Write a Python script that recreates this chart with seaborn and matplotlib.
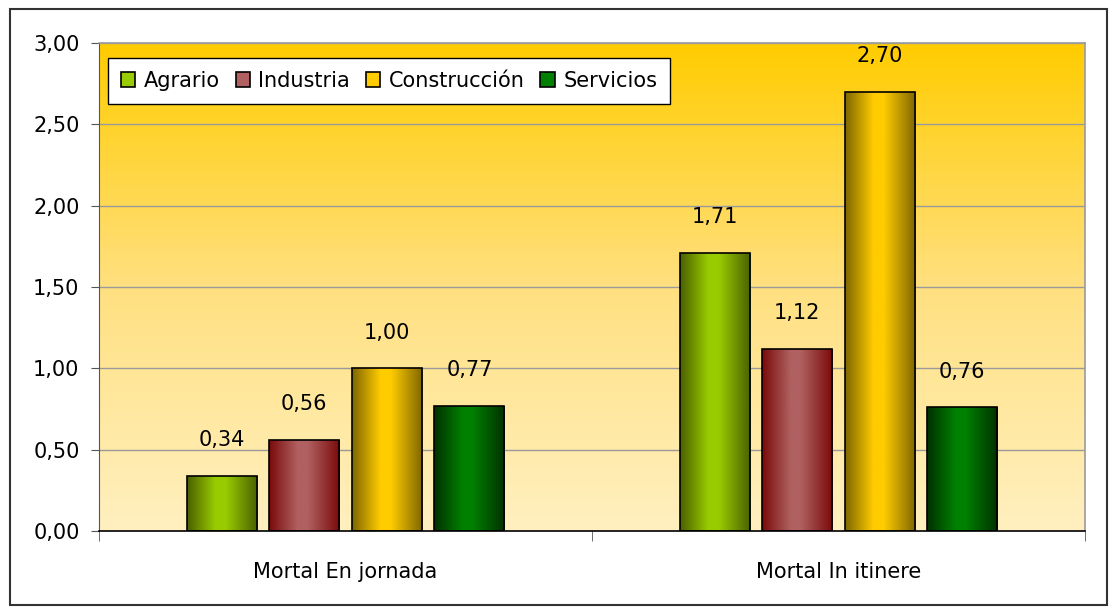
import numpy as np
import pandas as pd
import matplotlib
matplotlib.use("Agg")
import matplotlib.pyplot as plt
import seaborn as sns
from matplotlib.patches import Rectangle
from matplotlib.colors import LinearSegmentedColormap

# -----------------------------
# Data
# -----------------------------
categories = ["Mortal En jornada", "Mortal In itinere"]
sectors = ["Agrario", "Industria", "Construcción", "Servicios"]
agrario = [0.34, 1.71]
industria = [0.56, 1.12]
construccion = [1.00, 2.70]
servicios = [0.77, 0.76]

# light centre / dark edge for the bar gradients
light = {"Agrario": "#99CC00", "Industria": "#B06060",
         "Construcción": "#FFCC00", "Servicios": "#008000"}
dark = {"Agrario": "#4A6000", "Industria": "#7A0A0A",
        "Construcción": "#7F6600", "Servicios": "#003000"}

df = pd.DataFrame({
    "categoria": categories * 4,
    "sector": [s for s in sectors for _ in categories],
    "valor": agrario + industria + construccion + servicios,
})

fmt = lambda v: f"{v:.2f}".replace(".", ",")

# -----------------------------
# Figure
# -----------------------------
sns.set_style("white")
plt.rcParams["font.family"] = ["DejaVu Sans"]
plt.rcParams["text.color"] = "black"
plt.rcParams["xtick.color"] = "black"
plt.rcParams["ytick.color"] = "black"

FS = 15

fig = plt.figure(figsize=(11.14, 6.15), dpi=100)
ax = fig.add_axes([99 / 1114, 1 - 531 / 615, 986 / 1114, 488 / 615])

sns.barplot(data=df, x="categoria", y="valor", hue="sector",
            hue_order=sectors, order=categories,
            palette=light, width=0.67, gap=0.15,
            edgecolor="black", linewidth=1.2, legend=False, ax=ax)

# background gradient of the plot area
bg = LinearSegmentedColormap.from_list("bg", ["#FFF0C0", "#FFE080", "#FFCC00"])
ax.imshow(np.linspace(0, 1, 256).reshape(-1, 1), cmap=bg, aspect="auto",
          extent=[-0.5, 1.5, 0, 3], origin="lower", zorder=0)

# horizontal gradient inside each bar
for patch, sec in zip(ax.patches, [s for s in sectors for _ in categories]):
    cmap = LinearSegmentedColormap.from_list(
        sec, [(0, dark[sec]), (0.4, light[sec]), (0.55, light[sec]), (1, dark[sec])])
    x0, y0 = patch.get_x(), patch.get_y()
    w, h = patch.get_width(), patch.get_height()
    grad = np.linspace(0, 1, 128).reshape(1, -1)
    im = ax.imshow(grad, cmap=cmap, aspect="auto",
                   extent=[x0, x0 + w, y0, y0 + h], zorder=2)
    im.set_clip_path(patch)
    patch.set_zorder(3)
    patch.set_facecolor("none")
    ax.text(x0 + w / 2, y0 + h + 0.22, fmt(h), ha="center", va="center",
            fontsize=FS, color="black", zorder=4)

ax.set_xlim(-0.5, 1.5)
ax.set_ylim(0, 3)

# grid
ticks = np.arange(0, 3.01, 0.5)
ax.set_yticks(ticks)
ax.set_yticklabels([fmt(v) for v in ticks])
for v in ticks[1:]:
    ax.axhline(v, color="#9a9a9a", lw=1, zorder=1)

ax.set_xticks([0, 1])
ax.set_xticklabels(categories)
ax.set_xticks([-0.5, 0.5, 1.5], minor=True)
ax.tick_params(axis="x", which="major", length=0, pad=22, labelsize=FS)
ax.tick_params(axis="x", which="minor", length=7, direction="out",
               bottom=True, color="#555555")
ax.tick_params(axis="y", length=6, direction="out", left=True,
               labelsize=FS, pad=8, color="#555555")
ax.set_xlabel("")
ax.set_ylabel("")

for side in ["top", "right"]:
    ax.spines[side].set_color("#9a9a9a")
    ax.spines[side].set_linewidth(1.2)
ax.spines["left"].set_color("#555555")
ax.spines["bottom"].set_color("black")
ax.spines["bottom"].set_linewidth(1.2)
ax.spines["bottom"].set_zorder(5)

# legend
handles = [Rectangle((0, 0), 1, 1, facecolor=light[s], edgecolor="black",
                     linewidth=1.2) for s in sectors]
leg = ax.legend(handles, sectors, loc="upper left", ncol=4, fontsize=FS,
                frameon=True, fancybox=False, edgecolor="black",
                framealpha=1, handlelength=0.7, handleheight=0.7,
                handletextpad=0.4, columnspacing=0.75,
                borderpad=0.62, borderaxespad=0,
                bbox_to_anchor=(0.0091, 0.969))
leg.get_frame().set_linewidth(1)
leg.set_zorder(6)

# outer chart border
fig.patches.append(Rectangle((10 / 1114, 10 / 615), 1097 / 1114, 596 / 615,
                             transform=fig.transFigure, fill=False,
                             edgecolor="#333333", linewidth=1.5))

fig.savefig("out.png", dpi=100)
